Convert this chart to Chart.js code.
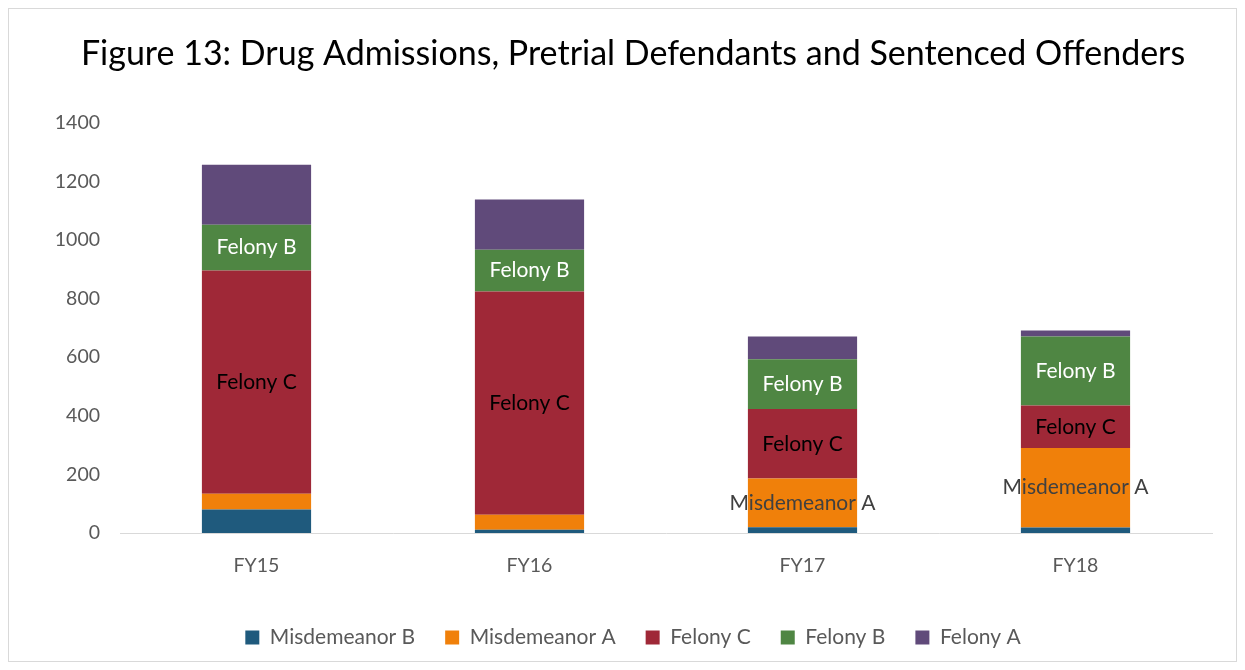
<!DOCTYPE html>
<html>
<head>
<meta charset="utf-8">
<script src="https://cdn.jsdelivr.net/npm/chart.js@4"></script>
<style>
  html, body { margin: 0; padding: 0; background: #fff; }
  #wrap { width: 1245px; height: 670px; position: relative; }
</style>
</head>
<body>
<div id="wrap"><canvas id="chart" width="1245" height="670"></canvas></div>
<script>
// data
const years = ['FY15', 'FY16', 'FY17', 'FY18'];
const misdemeanorB = [80, 11, 20, 19];
const misdemeanorA = [54, 51, 166, 271];
const felonyC = [762, 762, 237, 145];
const felonyB = [156, 143, 170, 236];
const felonyA = [205, 171, 78, 20];
const yTicks = [0, 200, 400, 600, 800, 1000, 1200, 1400];

// which bars get an inside label, per series
const showMisdA = [false, false, true, true];
const showFelC = [true, true, true, true];
const showFelB = [true, true, true, true];

const FONT = 'Lato, "Noto Sans", sans-serif';

// frame around the chart, like the Excel chart border
const framePlugin = {
  id: 'frame',
  beforeDraw(chart) {
    const c = chart.ctx;
    c.save();
    c.fillStyle = '#fff';
    c.fillRect(0, 0, chart.width, chart.height);
    c.strokeStyle = '#d9d9d9';
    c.lineWidth = 1;
    c.strokeRect(8.5, 8.5, chart.width - 17, chart.height - 17);
    c.restore();
  }
};

// segment labels drawn in the middle of each stacked piece
const segLabels = {
  id: 'segLabels',
  afterDatasetsDraw(chart) {
    const c = chart.ctx;
    c.save();
    c.font = '21px ' + FONT;
    c.textAlign = 'center';
    c.textBaseline = 'middle';
    chart.data.datasets.forEach((ds, di) => {
      if (!ds.showLabel) return;
      const meta = chart.getDatasetMeta(di);
      meta.data.forEach((bar, i) => {
        if (!ds.showLabel[i]) return;
        const p = bar.getProps(['x', 'y', 'base'], true);
        c.fillStyle = ds.labelColor;
        c.fillText(ds.label, p.x, (p.y + p.base) / 2);
      });
    });
    c.restore();
  }
};

new Chart(document.getElementById('chart'), {
  type: 'bar',
  data: {
    labels: years,
    datasets: [
      { label: 'Misdemeanor B', data: misdemeanorB, backgroundColor: '#1f5a7d' },
      { label: 'Misdemeanor A', data: misdemeanorA, backgroundColor: '#f0800a',
        showLabel: showMisdA, labelColor: '#404040' },
      { label: 'Felony C', data: felonyC, backgroundColor: '#9f2837',
        showLabel: showFelC, labelColor: '#000000' },
      { label: 'Felony B', data: felonyB, backgroundColor: '#4f8643',
        showLabel: showFelB, labelColor: '#ffffff' },
      { label: 'Felony A', data: felonyA, backgroundColor: '#604a7a' }
    ]
  },
  options: {
    responsive: false,
    animation: false,
    layout: { padding: { left: 54, right: 33, top: 10, bottom: 12 } },
    datasets: { bar: { categoryPercentage: 1, barPercentage: 0.4 } },
    plugins: {
      title: {
        display: true,
        text: 'Figure 13: Drug Admissions, Pretrial Defendants and Sentenced Offenders',
        color: '#000',
        font: { family: FONT, size: 34, weight: 'normal' },
        padding: { top: 24, bottom: 48 }
      },
      legend: {
        position: 'bottom',
        labels: {
          color: '#595959',
          font: { family: FONT, size: 21 },
          boxWidth: 14,
          boxHeight: 14,
          padding: 30
        }
      },
      tooltip: { enabled: false }
    },
    scales: {
      x: {
        stacked: true,
        grid: { display: false, drawTicks: false },
        border: { display: true, color: '#d9d9d9', width: 1 },
        ticks: { color: '#595959', font: { family: FONT, size: 19.5 }, padding: 21 },
        afterFit(s) { s.height = 64; }
      },
      y: {
        stacked: true,
        min: 0,
        max: 1400,
        grid: { display: false, drawTicks: false },
        border: { display: false },
        afterBuildTicks(s) { s.ticks = yTicks.map(v => ({ value: v })); },
        ticks: {
          color: '#595959',
          font: { family: FONT, size: 19.5 },
          padding: 20,
          callback: v => String(v)
        },
        afterFit(s) { s.width = 66; }
      }
    }
  },
  plugins: [framePlugin, segLabels]
});
</script>
</body>
</html>
